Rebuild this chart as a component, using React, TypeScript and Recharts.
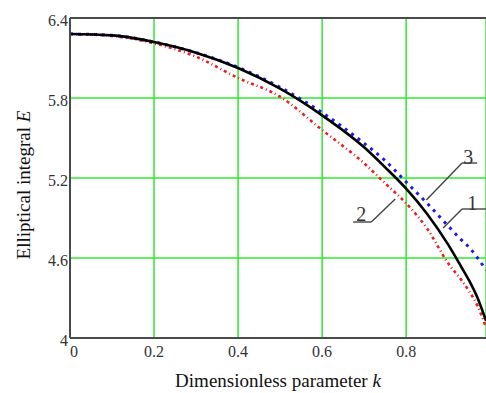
import React from 'react';
import { LineChart, Line, XAxis, YAxis, CartesianGrid, ReferenceLine, ReferenceDot } from 'recharts';

// dimensionless parameter k
const K_VALUES = [0, 0.1, 0.2, 0.3, 0.4, 0.5, 0.6, 0.7, 0.75, 0.8, 0.85, 0.9, 0.93, 0.95, 0.97, 0.99];
// curve 1 - exact (black solid)
const CURVE_1 = [6.28, 6.27, 6.22, 6.14, 6.025, 5.87, 5.67, 5.43, 5.28, 5.12, 4.93, 4.7, 4.54, 4.43, 4.3, 4.13];
// curve 2 - red dash-dot
const CURVE_2 = [6.28, 6.265, 6.21, 6.11, 5.95, 5.81, 5.56, 5.31, 5.16, 5.01, 4.82, 4.56, 4.44, 4.35, 4.24, 4.08];
// curve 3 - blue dotted
const CURVE_3 = [6.28, 6.27, 6.22, 6.14, 6.03, 5.88, 5.69, 5.46, 5.33, 5.17, 5.01, 4.84, 4.74, 4.68, 4.6, 4.51];

const X_TICKS = [0, 0.2, 0.4, 0.6, 0.8];
const Y_TICKS = [4, 4.6, 5.2, 5.8, 6.4];

// curve labels with leader lines: [text, textK, textE, elbowK, elbowE, endK, tipK, tipE]
const CALLOUTS = [
  { text: '3', tx: 0.948, ty: 5.355, underFrom: 0.933, underTo: 0.969, underE: 5.3125, tipK: 0.848, tipE: 5.035 },
  { text: '1', tx: 0.957, ty: 5.015, underFrom: 0.933, underTo: 0.99, underE: 4.9675, tipK: 0.888, tipE: 4.825 },
  { text: '2', tx: 0.693, ty: 4.93, underFrom: 0.674, underTo: 0.717, underE: 4.87, tipK: 0.774, tipE: 5.0425, elbowRight: true },
];

const data = K_VALUES.map((k, i) => ({ k, e1: CURVE_1[i], e2: CURVE_2[i], e3: CURVE_3[i] }));

const FONT = '"Liberation Serif", "Times New Roman", serif';
const FRAME = '#4a4a4a';
const GRID = '#2fe82f';

const XTick = (props: any) => {
  const { x, y, payload } = props;
  const first = payload.value === 0;
  return (
    <text x={first ? x : x} y={y} dy="0.71em" textAnchor={first ? 'start' : 'middle'} fontFamily={FONT} fontSize={16} fill="#333">
      {payload.value === 0 ? '0' : payload.value.toFixed(1)}
    </text>
  );
};

const YTick = (props: any) => {
  const { x, y, payload } = props;
  const v = payload.value;
  return (
    <text x={x} y={y + 2} dy="0.355em" textAnchor="end" fontFamily={FONT} fontSize={16} fill="#333">
      {v === 4 ? '4' : v.toFixed(1)}
    </text>
  );
};

const XTitle = (props: any) => {
  const { viewBox } = props;
  const cx = viewBox.x + viewBox.width / 2;
  return (
    <text x={cx} y={387} textAnchor="middle" fontFamily={FONT} fontSize={19} fill="#111">
      Dimensionless parameter <tspan fontStyle="italic">k</tspan>
    </text>
  );
};

const YTitle = () => (
  <text x={30} y={185} transform="rotate(-90 30 185)" textAnchor="middle" fontFamily={FONT} fontSize={19} fill="#111">
    Elliptical integral <tspan fontStyle="italic">E</tspan>
  </text>
);

const NumberLabel = (text: string) => (props: any) => {
  const { viewBox } = props;
  return (
    <text x={viewBox.x} y={viewBox.y} dy="0.35em" textAnchor="middle" fontFamily={FONT} fontSize={20} fill="#333">
      {text}
    </text>
  );
};

export default function App() {
  return (
    <div style={{ position: 'absolute', left: 0, top: 0, background: '#fff' }}>
      <LineChart width={486} height={393} data={data} margin={{ top: 18, right: 0, left: 8, bottom: 0 }}>
        <CartesianGrid stroke={GRID} strokeWidth={1.5} />
        <XAxis
          dataKey="k"
          type="number"
          domain={[0, 0.99]}
          ticks={X_TICKS}
          allowDataOverflow
          height={55}
          tickLine={false}
          tickSize={0}
          tickMargin={8}
          tick={<XTick />}
          axisLine={{ stroke: FRAME, strokeWidth: 2 }}
          label={<XTitle />}
        />
        <YAxis
          type="number"
          domain={[4, 6.4]}
          ticks={Y_TICKS}
          width={62}
          tickLine={false}
          tickSize={0}
          tickMargin={2}
          tick={<YTick />}
          axisLine={{ stroke: FRAME, strokeWidth: 2 }}
          label={<YTitle />}
        />
        <ReferenceLine y={6.4} stroke={FRAME} strokeWidth={2} />

        <Line type="monotone" dataKey="e2" stroke="#ee1c1c" strokeWidth={2.6} strokeDasharray="3 3 1 3" dot={false} isAnimationActive={false} />
        <Line type="monotone" dataKey="e3" stroke="#1a1aee" strokeWidth={3} strokeDasharray="3 5" dot={false} isAnimationActive={false} />
        <Line type="monotone" dataKey="e1" stroke="#000" strokeWidth={2.6} dot={false} isAnimationActive={false} />

        {CALLOUTS.map((c) => (
          <ReferenceLine
            key={'u' + c.text}
            segment={[{ x: c.underFrom, y: c.underE }, { x: c.underTo, y: c.underE }]}
            stroke="#444"
            strokeWidth={1.4}
            ifOverflow="visible"
          />
        ))}
        {CALLOUTS.map((c) => (
          <ReferenceLine
            key={'l' + c.text}
            segment={[{ x: c.elbowRight ? c.underTo : c.underFrom, y: c.underE }, { x: c.tipK, y: c.tipE }]}
            stroke="#444"
            strokeWidth={1.4}
            ifOverflow="visible"
          />
        ))}
        {CALLOUTS.map((c) => (
          <ReferenceDot key={'t' + c.text} x={c.tx} y={c.ty} r={0} stroke="none" fill="none" ifOverflow="visible" label={NumberLabel(c.text)} />
        ))}
      </LineChart>
    </div>
  );
}
